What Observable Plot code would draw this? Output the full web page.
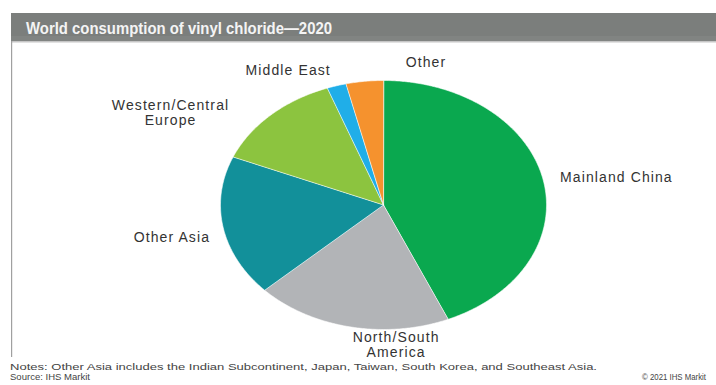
<!DOCTYPE html>
<html>
<head>
<meta charset="utf-8">
<script src="https://cdn.jsdelivr.net/npm/d3@7"></script>
<script src="https://cdn.jsdelivr.net/npm/@observablehq/plot@0.6"></script>
<style>
  html, body { margin: 0; padding: 0; background: #fff; }
  #wrap { position: relative; width: 716px; height: 385px; overflow: hidden; background: #fff; }
  #chart { position: absolute; left: 0; top: 0; }
  #overlay { position: absolute; left: 0; top: 0; pointer-events: none; }
</style>
</head>
<body>
<div id="wrap">
  <div id="chart"></div>
  <svg id="overlay" width="716" height="385"></svg>
</div>
<script>
// ---- data ----
const regions = ["Mainland China", "North/South America", "Other Asia", "Western/Central Europe", "Middle East", "Other"];
const shares  = [43.5, 19.5, 18.3, 13.1, 1.9, 3.7];
const labels  = ["Mainland China", "North/South\nAmerica", "Other Asia", "Western/Central\nEurope", "Middle East", "Other"];
const titleText = "World consumption  of vinyl chloride\u20142020";
const noteText = "Notes: Other Asia includes the Indian Subcontinent,  Japan,  Taiwan,  South Korea,  and Southeast  Asia.";
const sourceText = "Source:  IHS Markit";
const creditText = "\u00a9 2021  IHS Markit";

// ---- styles ----
const colors = ["#0aa84f", "#b2b4b7", "#12909a", "#8cc43f", "#20aee8", "#f5922e"];
const labelStyle = [
  {anchor: "start",  dx: 1,   dy: 0},
  {anchor: "middle", dx: 49,  dy: 5.5},
  {anchor: "end",    dx: 3,   dy: 8},
  {anchor: "middle", dx: -89, dy: 6.5},
  {anchor: "end",    dx: -1,  dy: -4},
  {anchor: "start",  dx: 43,  dy: -6.5}
];

// ---- geometry from data ----
const arcs = d3.pie().sort(null).value(d => d)(shares);
const slicePts = [];
arcs.forEach((a, i) => {
  slicePts.push({name: regions[i], color: colors[i], x: 0, y: 0});
  const n = Math.max(2, Math.ceil((a.endAngle - a.startAngle) / 0.01));
  for (let k = 0; k <= n; k++) {
    const t = a.startAngle + (a.endAngle - a.startAngle) * k / n;
    slicePts.push({name: regions[i], color: colors[i], x: Math.sin(t), y: Math.cos(t)});
  }
});
const labelData = arcs.map((a, i) => {
  const m = (a.startAngle + a.endAngle) / 2;
  return {label: labels[i], x: 1.1 * Math.sin(m), y: 1.1 * Math.cos(m)};
});

const plot = Plot.plot({
  width: 716,
  height: 385,
  marginLeft: 220,
  marginRight: 170,
  marginTop: 80,
  marginBottom: 56,
  x: {domain: [-1, 1], axis: null},
  y: {domain: [-1, 1], axis: null},
  style: {background: "transparent", fontFamily: "Liberation Sans, Arial, sans-serif", letterSpacing: "1.1px"},
  marks: [
    Plot.line(slicePts, {x: "x", y: "y", z: "name", fill: "color", stroke: "#ffffff", strokeWidth: 0.8, strokeOpacity: 0.7, curve: "linear-closed"}),
    ...labelData.map((d, i) => Plot.text([d], {
      x: "x", y: "y", text: "label",
      textAnchor: labelStyle[i].anchor, dx: labelStyle[i].dx, dy: labelStyle[i].dy,
      fontSize: 14, fill: "#333333", lineHeight: 1.1
    }))
  ]
});
document.getElementById("chart").appendChild(plot);

// ---- title bar and footer ----
const ov = d3.select("#overlay");
ov.append("rect").attr("x", 11).attr("y", 13).attr("width", 705).attr("height", 28).attr("fill", "#7b7e7c");
ov.append("rect").attr("x", 11).attr("y", 36).attr("width", 705).attr("height", 5).attr("fill", "#818482");
ov.append("rect").attr("x", 11).attr("y", 41).attr("width", 705).attr("height", 1.5).attr("fill", "#c6c6c6");
ov.append("rect").attr("x", 11).attr("y", 41).attr("width", 1.2).attr("height", 316).attr("fill", "#a0a0a0");
ov.append("text").text(titleText)
  .attr("x", 26).attr("y", 34)
  .attr("font-family", "Liberation Sans, Arial, sans-serif").attr("font-weight", "bold")
  .attr("font-size", 16.5).attr("fill", "#f4f4f4")
  .attr("textLength", 306).attr("lengthAdjust", "spacingAndGlyphs");
ov.append("text").text(noteText)
  .attr("x", 10).attr("y", 370)
  .attr("font-family", "Liberation Sans, Arial, sans-serif")
  .attr("font-size", 9).attr("fill", "#444")
  .attr("textLength", 587).attr("lengthAdjust", "spacingAndGlyphs");
ov.append("text").text(sourceText)
  .attr("x", 10).attr("y", 380)
  .attr("font-family", "Liberation Sans, Arial, sans-serif")
  .attr("font-size", 9).attr("fill", "#444")
  .attr("textLength", 80).attr("lengthAdjust", "spacingAndGlyphs");
ov.append("text").text(creditText)
  .attr("x", 642).attr("y", 380)
  .attr("font-family", "Liberation Sans, Arial, sans-serif")
  .attr("font-size", 8.5).attr("fill", "#444")
  .attr("textLength", 64).attr("lengthAdjust", "spacingAndGlyphs");
</script>
</body>
</html>
